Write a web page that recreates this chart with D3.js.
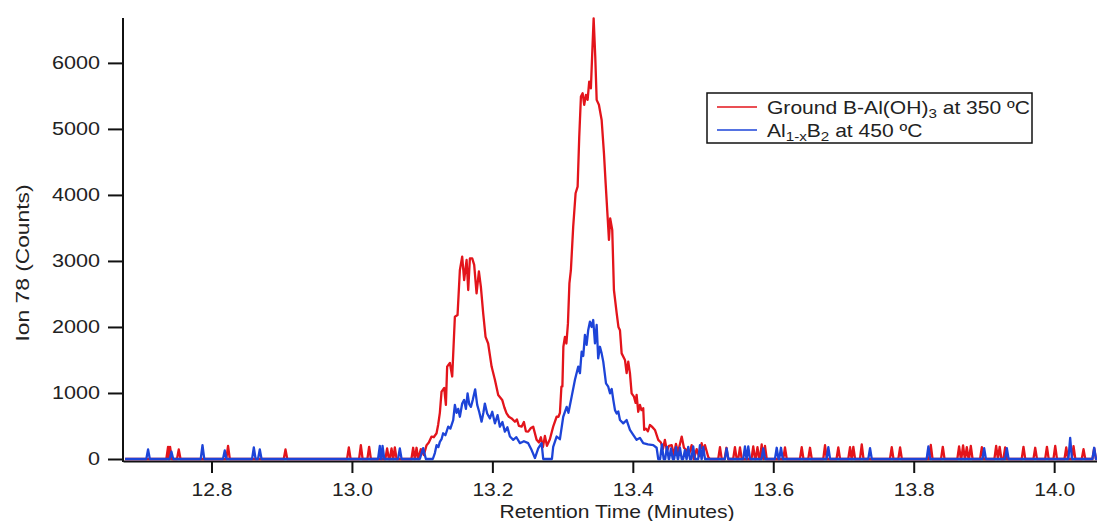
<!DOCTYPE html>
<html>
<head>
<meta charset="utf-8">
<script src="https://cdn.jsdelivr.net/npm/d3@7"></script>
<style>
  body { margin: 0; background: #fff; }
  svg { display: block; font-family: "Liberation Sans", Arial, Helvetica, sans-serif; }
  .axis .domain, .axis line { stroke: #111; stroke-width: 2; }
  .axis text { fill: #222; font-size: 18px; }
</style>
</head>
<body>
<div id="chart"></div>
<script>
// ---- data ----
const seriesNames = ["Ground B-Al(OH)3 at 350 ºC", "Al1-xB2 at 450 ºC"];
const seriesColors = ["#e3141b", "#1d44d8"];
const xTicks = [12.8, 13.0, 13.2, 13.4, 13.6, 13.8, 14.0];
const yTicks = [0, 1000, 2000, 3000, 4000, 5000, 6000];
const xDomain = [12.674, 14.061];
const yMax = 6680;
const traceStart = 12.677, traceEnd = 14.061;

// isolated one-scan noise spikes on the baseline [time, counts]
const redSpikes = [
  [12.7382,185],[12.7410,185],[12.7534,145],[12.8236,200],[12.9054,145],[12.9956,175],
  [13.0127,210],[13.0245,185],[13.0501,160],[13.0564,160],[13.0611,175],[13.0872,170],[13.0920,170],
  [13.5241,180],[13.5333,170],[13.5454,180],[13.5526,175],[13.5715,190],[13.5775,180],[13.5835,220],
  [13.5882,200],[13.6167,175],[13.6405,180],[13.6523,170],[13.6737,210],[13.6926,175],[13.7093,180],
  [13.7140,185],[13.7260,220],[13.7687,180],[13.7806,175],[13.8243,215],[13.8414,185],[13.8646,190],
  [13.8703,205],[13.8756,180],[13.8813,200],[13.8970,180],[13.9174,200],[13.9224,185],[13.9302,175],
  [13.9563,185],[13.9730,170],[13.9897,185],[14.0015,200],[14.0172,175],[14.0276,195],[14.0418,150],
  [14.0570,165]
];
const blueSpikes = [
  [12.7097,145],[12.7430,110],[12.7872,210],[12.8189,130],[12.8603,175],[12.8688,145],[13.0397,200],
  [13.0436,200],[13.0682,160],
  [13.4414,220],[13.4486,185],[13.4543,160],[13.4614,180],[13.4671,170],[13.4742,135],[13.4789,185],
  [13.4860,190],[13.4956,210],[13.5003,180],[13.5336,160],[13.5597,190],[13.5644,190],[13.5858,160],
  [13.6049,170],[13.6110,170],[13.6784,180],[13.7378,165],[13.8209,190],[13.9003,165],[13.9326,165],
  [14.0228,320],[14.0570,170]
];

// the two eluting peaks [time, counts]
const redPeak = [
  [13.0981,150],[13.1024,60],[13.1063,210],[13.1095,250],[13.1134,340],[13.1167,330],[13.1205,390],
  [13.1228,520],[13.1252,700],[13.1276,1020],[13.1314,1075],[13.1338,820],[13.1356,1400],[13.1395,1455],
  [13.1428,1250],[13.1466,2155],[13.1504,2180],[13.1537,2860],[13.1570,3065],[13.1598,2710],[13.1633,3015],
  [13.1656,2560],[13.1680,3040],[13.1713,3040],[13.1741,2940],[13.1775,2510],[13.1808,2840],[13.1836,2610],
  [13.1869,2210],[13.1903,1850],[13.1940,1750],[13.1989,1400],[13.2036,1200],[13.2083,970],[13.2140,895],
  [13.2171,780],[13.2202,690],[13.2235,640],[13.2274,615],[13.2321,565],[13.2349,600],[13.2378,500],
  [13.2416,490],[13.2449,560],[13.2477,420],[13.2510,415],[13.2549,470],[13.2581,490],[13.2630,290],
  [13.2663,250],[13.2691,330],[13.2720,180],[13.2748,350],[13.2777,200],[13.2819,300],[13.2866,490],
  [13.2915,640],[13.2941,640],[13.2962,700],[13.2983,1095],[13.2997,1100],[13.3011,1700],[13.3033,1850],
  [13.3054,1750],[13.3076,2050],[13.3097,2660],[13.3118,2860],[13.3151,3520],[13.3185,4025],[13.3214,4125],
  [13.3237,4880],[13.3261,5490],[13.3285,5540],[13.3308,5365],[13.3332,5515],[13.3356,5440],[13.3379,5715],
  [13.3403,5615],[13.3422,6145],[13.3442,6675],[13.3465,6095],[13.3485,5440],[13.3517,5365],[13.3556,5135],
  [13.3589,4630],[13.3613,4175],[13.3641,3670],[13.3660,3320],[13.3678,3645],[13.3707,3470],[13.3731,2560],
  [13.3770,2210],[13.3795,2000],[13.3817,1950],[13.3841,1600],[13.3888,1500],[13.3912,1300],[13.3935,1475],
  [13.3959,1300],[13.3983,995],[13.4016,945],[13.4040,850],[13.4054,970],[13.4077,715],[13.4101,820],
  [13.4123,740],[13.4148,770],[13.4162,440],[13.4187,460],[13.4215,420],[13.4243,515],[13.4272,490],
  [13.4315,440],[13.4362,290],[13.4400,250],[13.4429,150],[13.4457,290],[13.4486,120],[13.4514,200],
  [13.4553,210],[13.4586,60],[13.4614,230],[13.4643,100],[13.4696,340],[13.4728,170],[13.4767,135],
  [13.4799,60],[13.4838,210],[13.4870,0],[13.4909,150],[13.4942,40],[13.4980,240],[13.5006,120],
  [13.5027,210],[13.5074,30],[13.5098,0]
];
const bluePeak = [
  [13.0967,0],[13.1014,165],[13.1053,0],[13.1152,0],[13.1181,90],[13.1205,210],[13.1231,180],
  [13.1252,260],[13.1276,300],[13.1299,390],[13.1331,360],[13.1371,490],[13.1402,460],[13.1442,590],
  [13.1466,820],[13.1490,700],[13.1513,760],[13.1537,640],[13.1570,840],[13.1598,895],[13.1623,760],
  [13.1647,995],[13.1670,830],[13.1694,790],[13.1722,900],[13.1755,1055],[13.1784,820],[13.1812,715],
  [13.1846,565],[13.1872,700],[13.1893,840],[13.1926,690],[13.1965,615],[13.1998,715],[13.2036,540],
  [13.2074,665],[13.2107,490],[13.2143,560],[13.2178,415],[13.2214,480],[13.2250,340],[13.2297,290],
  [13.2342,330],[13.2392,240],[13.2449,270],[13.2510,240],[13.2559,135],[13.2606,15],[13.2653,160],
  [13.2701,240],[13.2724,0],[13.2848,0],[13.2866,185],[13.2915,340],[13.2962,300],[13.3009,640],
  [13.3058,790],[13.3083,700],[13.3129,945],[13.3176,1200],[13.3223,1400],[13.3247,1300],[13.3271,1625],
  [13.3294,1560],[13.3318,1880],[13.3342,1730],[13.3365,1955],[13.3389,2080],[13.3413,2000],[13.3436,2105],
  [13.3461,1750],[13.3485,2030],[13.3507,1525],[13.3532,1700],[13.3556,1600],[13.3579,1475],[13.3618,1145],
  [13.3650,1095],[13.3675,995],[13.3699,1060],[13.3722,895],[13.3746,740],[13.3770,690],[13.3793,720],
  [13.3817,590],[13.3864,540],[13.3912,590],[13.3959,440],[13.4006,365],[13.4054,290],[13.4101,320],
  [13.4148,240],[13.4215,220],[13.4291,210],[13.4339,170],[13.4362,0],[13.4386,0]
];

// ---- layout ----
const W = 1097, H = 521;
const margin = {top: 18, left: 123, bottom: 62};
const zeroY = 459;
const textStretch = 1.17;   // the original font renders wide
const spikeHalf = 0.0025;   // half a scan interval

const svg = d3.select("#chart").append("svg")
    .attr("width", W)
    .attr("height", H);

const x = d3.scaleLinear().domain(xDomain).range([margin.left, W]);
const y = d3.scaleLinear().domain([0, yMax]).range([zeroY, margin.top]);

// build each trace: flat baseline, spikes and the peak section
function buildTrace(spikes, peak) {
    let pts = [[traceStart, 0], [traceEnd, 0]];
    spikes.forEach(s => {
        pts.push([s[0] - spikeHalf, 0], [s[0], s[1]], [s[0] + spikeHalf, 0]);
    });
    pts = pts.concat(peak);
    pts.sort((a, b) => a[0] - b[0]);
    return pts;
}
const traces = [buildTrace(redSpikes, redPeak), buildTrace(blueSpikes, bluePeak)];

// x axis (sits just below zero, like the original)
const xAxis = d3.axisBottom(x)
    .tickValues(xTicks)
    .tickFormat(d3.format(".1f"))
    .tickSize(12)
    .tickPadding(10.5)
    .tickSizeOuter(0);

const gx = svg.append("g")
    .attr("class", "axis x-axis")
    .attr("transform", `translate(0,${zeroY + 2})`)
    .call(xAxis);
gx.selectAll("text").attr("transform", `scale(${textStretch},1)`);

// y axis
const yAxis = d3.axisLeft(y)
    .tickValues(yTicks)
    .tickFormat(d3.format("d"))
    .tickSize(15)
    .tickPadding(8)
    .tickSizeOuter(0);

const gy = svg.append("g")
    .attr("class", "axis y-axis")
    .attr("transform", `translate(${margin.left},0)`)
    .call(yAxis);
gy.select(".domain").remove();
gy.append("line")
    .attr("x1", 0).attr("x2", 0)
    .attr("y1", y(yMax)).attr("y2", zeroY + 3);
gy.selectAll("text")
    .attr("x", -23 / 1.2)
    .attr("transform", "scale(1.2,1)");

// axis titles
svg.append("text")
    .attr("transform", `translate(617,518) scale(${textStretch},1)`)
    .attr("text-anchor", "middle")
    .attr("font-size", 18)
    .attr("fill", "#222")
    .text("Retention Time (Minutes)");

svg.append("text")
    .attr("transform", "translate(29,263) rotate(-90) scale(1.2,1)")
    .attr("text-anchor", "middle")
    .attr("font-size", 19)
    .attr("fill", "#222")
    .text("Ion 78 (Counts)");

// traces, red under blue
const line = d3.line()
    .x(d => x(d[0]))
    .y(d => y(d[1]));

svg.selectAll(".trace")
    .data(traces)
    .enter()
    .append("path")
    .attr("class", "trace")
    .attr("d", line)
    .attr("fill", "none")
    .attr("stroke", (d, i) => seriesColors[i])
    .attr("stroke-width", 2.3)
    .attr("stroke-linejoin", "round");

// legend
const legend = svg.append("g");
legend.append("rect")
    .attr("x", 707).attr("y", 93)
    .attr("width", 325).attr("height", 50)
    .attr("fill", "#fff")
    .attr("stroke", "#111")
    .attr("stroke-width", 1.5);

const legendRows = [
    {parts: [["Ground B-Al(OH)", false], ["3", true], [" at 350 ºC", false]]},
    {parts: [["Al", false], ["1-x", true], ["B", false], ["2", true], [" at 450 ºC", false]]}
];

legendRows.forEach((row, i) => {
    let ly = 107 + i * 23;
    legend.append("line")
        .attr("x1", 717).attr("x2", 757)
        .attr("y1", ly).attr("y2", ly)
        .attr("stroke", seriesColors[i])
        .attr("stroke-width", 1.6);

    let t = legend.append("text")
        .attr("transform", `translate(767,${ly + 7}) scale(${textStretch},1)`)
        .attr("font-size", 18)
        .attr("fill", "#222")
        .attr("aria-label", seriesNames[i]);
    let shifted = false;
    row.parts.forEach(p => {
        let dy = 0;
        if (p[1] && !shifted) { dy = 4; shifted = true; }
        else if (!p[1] && shifted) { dy = -4; shifted = false; }
        t.append("tspan")
            .attr("dy", dy)
            .attr("font-size", p[1] ? 13 : 18)
            .text(p[0]);
    });
});
</script>
</body>
</html>
